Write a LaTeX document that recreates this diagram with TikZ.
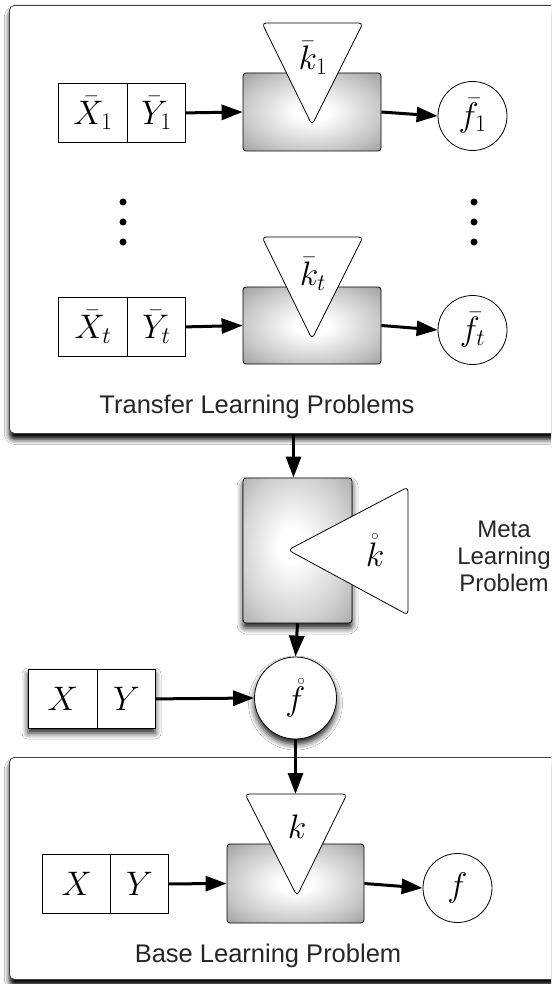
\RequirePackage{fix-cm}
\documentclass[tikz,border=0pt]{standalone}
\usepackage{fontspec}
\newfontfamily\panelfont{Liberation Sans}
\usetikzlibrary{arrows.meta,shadows.blur}
\pgfdeclareradialshading{boxshade}{\pgfpoint{0bp}{0bp}}{%
  color(0bp)=(white); color(6bp)=(white); color(25bp)=(black!22);
  color(36bp)=(black!38); color(50bp)=(black!38)}
\pgfdeclareradialshading{metashade}{\pgfpoint{-3bp}{2bp}}{%
  color(0bp)=(white); color(6bp)=(white); color(25bp)=(black!18);
  color(36bp)=(black!32); color(50bp)=(black!32)}
\begin{document}
\begin{tikzpicture}[x=1pt,y=-1pt,
  mathtxt/.style={font=\fontsize{34}{40}\selectfont},
  cellx/.style={draw, line width=0.8pt, fill=white, minimum width=69pt, minimum height=59pt, inner sep=0pt, anchor=north west, mathtxt},
  celly/.style={cellx, minimum width=58pt},
  procbox/.style={draw, line width=0.8pt, rounded corners=3pt, shading=boxshade, inner sep=0pt},
  ktri/.style={draw, line width=0.8pt, fill=white, rounded corners=4pt, line join=round},
  outcirc/.style={circle, draw, line width=0.8pt, fill=white, inner sep=0pt, minimum size=69pt, mathtxt},
  arr/.style={draw=black, line width=3pt, -{Triangle[length=21pt,width=15pt,fill=black]}},
  softshadow/.style={blur shadow={shadow xshift=0pt, shadow yshift=-5pt, shadow blur radius=6pt, shadow opacity=90}},
  panelshadow/.style={blur shadow={shadow xshift=0pt, shadow yshift=-6pt, shadow blur radius=5pt, shadow opacity=100}},
  panel/.style={draw=black!75, line width=0.8pt, fill=white, rounded corners=5pt, inner sep=0pt, anchor=north west, panelshadow},
  paneltext/.style={font=\panelfont\fontsize{25.5}{30}\selectfont, text=black!85, anchor=base, inner sep=0pt},
  metatext/.style={font=\panelfont\fontsize{24}{28}\selectfont, text=black!85, anchor=base, inner sep=0pt},
  dot/.style={circle, fill=black, inner sep=0pt, minimum size=7pt}
]
\clip (0,0) rectangle (551,984);
\fill[white] (0,0) rectangle (551,984);

% ---------------- Transfer learning panel ----------------
\node (toppanel) [panel, minimum width=570pt, minimum height=428pt] at (9,5) {};

% row 1
\node (x1) [cellx] at (58,83) {$\bar{X}_1$};
\node (y1) [celly] at (127,83) {$\bar{Y}_1$};
\node (p1) [procbox, minimum width=138pt, minimum height=78pt] at (312,112) {};
\draw[ktri] (262,23) -- (363,23) -- (312,125) -- cycle;
\node (k1) [mathtxt] at (313,58) {$\bar{k}_1$};
\node (c1) [outcirc] at (472.5,116) {$\bar{f}_1$};
\draw[arr] (y1.east) -- (p1.west);
\draw[arr] (p1.east) -- (c1.west);

% dots
\node (dl1) [dot] at (123,202) {};
\node (dl2) [dot] at (123,222) {};
\node (dl3) [dot] at (123,242) {};
\node (dr1) [dot] at (474,202) {};
\node (dr2) [dot] at (474,222) {};
\node (dr3) [dot] at (474,242) {};

% row t
\node (x2) [cellx] at (58,297) {$\bar{X}_t$};
\node (y2) [celly] at (127,297) {$\bar{Y}_t$};
\node (p2) [procbox, minimum width=138pt, minimum height=77pt] at (312,325.5) {};
\draw[ktri] (262,237) -- (363,237) -- (312,339) -- cycle;
\node (k2) [mathtxt] at (313,274) {$\bar{k}_t$};
\node (c2) [outcirc] at (472.5,330) {$\bar{f}_t$};
\draw[arr] (y2.east) -- (p2.west);
\draw[arr] (p2.east) -- (c2.west);

\node (toplabel) [paneltext] at (257,413) {Transfer Learning Problems};

% ---------------- Meta learning ----------------
\node (meta) [procbox, shading=metashade, softshadow, minimum width=109pt, minimum height=145pt] at (297.5,550.5) {};
\draw[ktri] (288,550) -- (408,487) -- (408,615) -- cycle;
\node (km) [mathtxt] at (375,550) {$\mathring{k}$};
\draw[arr] ([xshift=-4pt]meta.north |- toppanel.south) -- ([xshift=-4pt]meta.north);

\node (metaA) [metatext] at (504,537) {Meta};
\node (metaB) [metatext] at (504,564) {Learning};
\node (metaC) [metatext] at (504,591) {Problem};

% ---------------- f ring row ----------------
\begin{scope}
\path[fill=white, softshadow] (28,669) rectangle (155,728);
\end{scope}
\node (x3) [cellx] at (28,669) {$X$};
\node (y3) [celly] at (97,669) {$Y$};
\node (fr) [outcirc, minimum size=82pt, softshadow] at (295.5,698) {$\mathring{f}$};
\draw[arr] (y3.east) -- (fr.west);
\draw[arr] (meta.south) -- (fr.north);

% ---------------- Base learning panel ----------------
\node (basepanel) [panel, minimum width=570pt, minimum height=222pt] at (9,757) {};
\node (x4) [cellx] at (42,854) {$X$};
\node (y4) [celly] at (110,854) {$Y$};
\node (p4) [procbox, minimum width=137pt, minimum height=79pt] at (295.5,883.5) {};
\draw[ktri] (245,794) -- (347,794) -- (297,896) -- cycle;
\coordinate (ktop) at (297,794);
\node (kb) [mathtxt] at (297,827) {$k$};
\node (cf) [outcirc] at (457.5,888) {$f$};
\draw[arr] (fr.south) -- (fr.south |- ktop);
\draw[arr] (y4.east) -- (p4.west);
\draw[arr] (p4.east) -- (cf.west);
\node (baselabel) [paneltext] at (268,962) {Base Learning Problem};
\end{tikzpicture}
\end{document}
